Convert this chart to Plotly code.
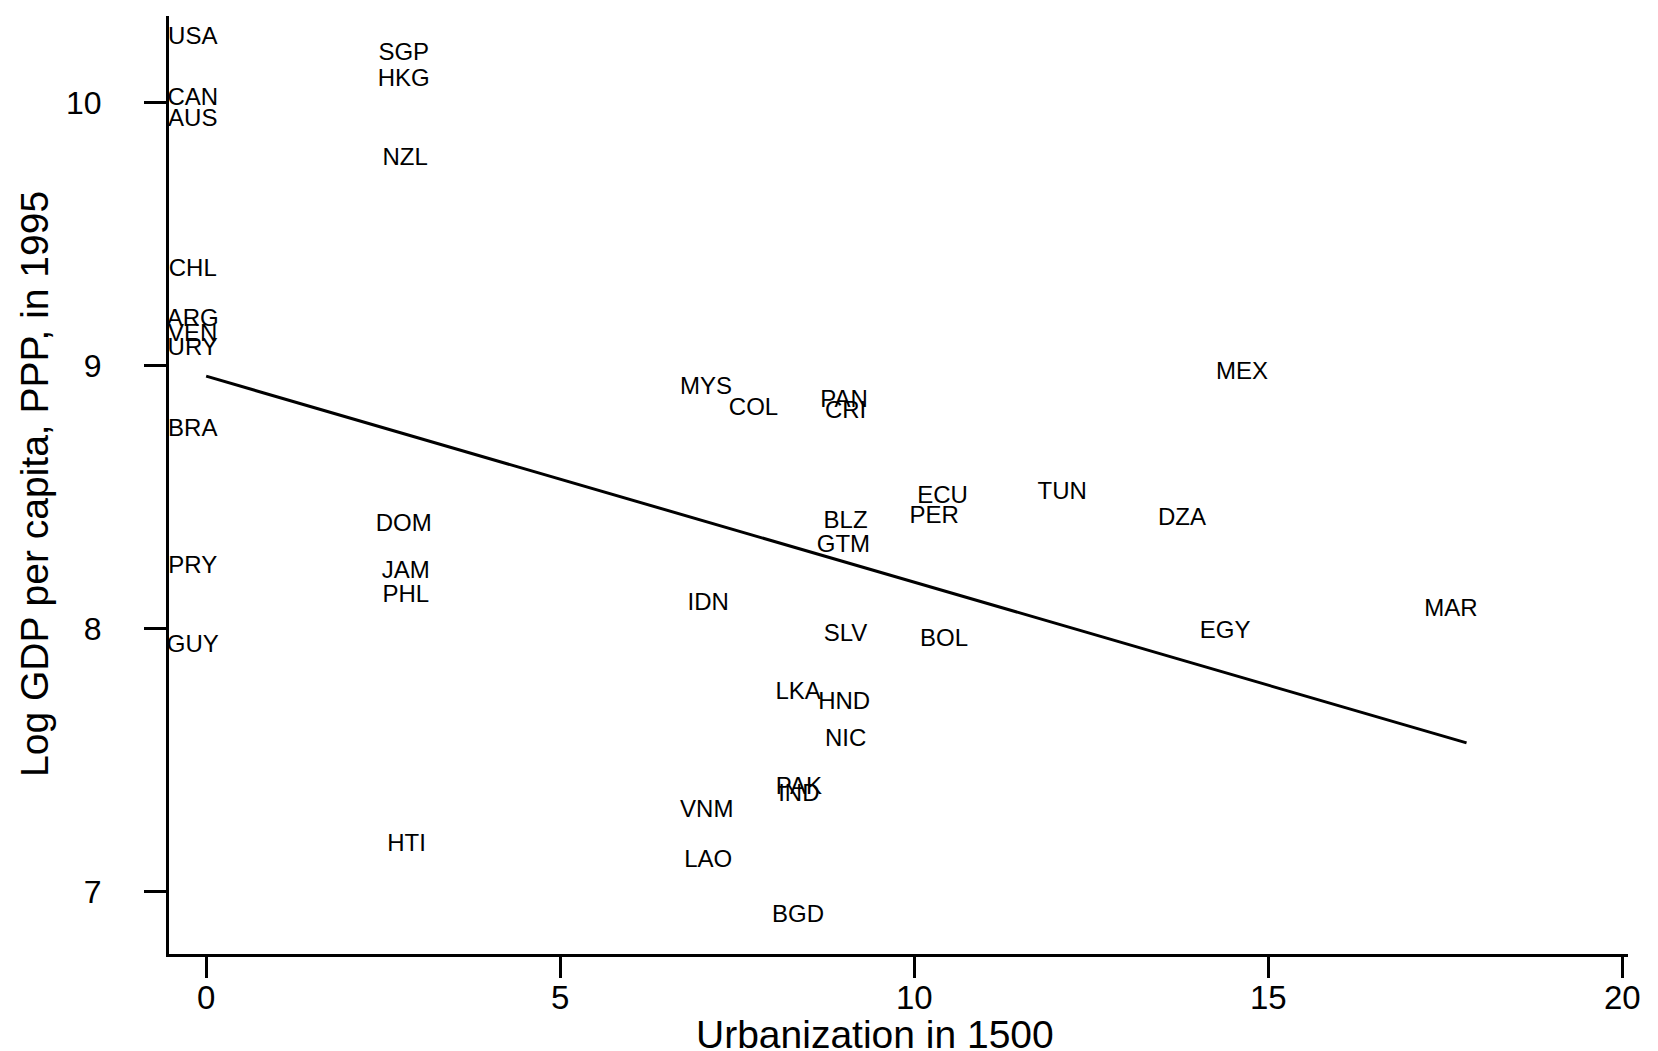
import plotly.graph_objects as go

# Country codes with urbanization in 1500 (%) and log GDP per capita (PPP) in 1995
countries = ["USA", "SGP", "HKG", "CAN", "AUS", "NZL", "CHL", "ARG", "VEN", "URY",
             "BRA", "PRY", "GUY", "DOM", "JAM", "PHL", "HTI", "MYS", "COL", "PAN",
             "CRI", "MEX", "ECU", "PER", "TUN", "DZA", "BLZ", "GTM", "IDN", "SLV",
             "BOL", "EGY", "MAR", "LKA", "HND", "NIC", "PAK", "IND", "VNM", "LAO",
             "BGD"]
urbanization_1500 = [-0.19, 2.79, 2.79, -0.19, -0.19, 2.81, -0.19, -0.19, -0.19, -0.19,
                     -0.19, -0.19, -0.19, 2.79, 2.82, 2.82, 2.83, 7.06, 7.73, 9.01,
                     9.03, 14.63, 10.40, 10.28, 12.09, 13.78, 9.03, 9.00, 7.09, 9.03,
                     10.42, 14.39, 17.58, 8.36, 9.01, 9.03, 8.37, 8.37, 7.07, 7.09,
                     8.36]
log_gdp_1995 = [10.245, 10.185, 10.085, 10.015, 9.935, 9.785, 9.365, 9.175, 9.115, 9.065,
                8.755, 8.235, 7.935, 8.395, 8.215, 8.125, 7.175, 8.915, 8.835, 8.865,
                8.825, 8.971, 8.50, 8.425, 8.515, 8.415, 8.405, 8.315, 8.095, 7.975,
                7.955, 7.985, 8.07, 7.755, 7.715, 7.575, 7.395, 7.365, 7.305, 7.115,
                6.905]

# Fitted regression line endpoints
fit_x = [0.0, 17.8]
fit_y = [8.96, 7.565]

x_ticks = [0, 5, 10, 15, 20]
y_ticks = [7, 8, 9, 10]

FONT = "Liberation Sans, Arial, Helvetica, sans-serif"

fig = go.Figure()

fig.add_trace(go.Scatter(
    x=fit_x, y=fit_y, mode="lines",
    line=dict(color="black", width=3),
    hoverinfo="skip", showlegend=False,
))

fig.add_trace(go.Scatter(
    x=urbanization_1500, y=log_gdp_1995, mode="text",
    text=countries, textposition="middle center",
    textfont=dict(family=FONT, size=24, color="black"),
    showlegend=False,
))

fig.update_layout(
    width=1658, height=1051,
    margin=dict(l=169, r=30, t=16, b=97, autoexpand=False),
    paper_bgcolor="white", plot_bgcolor="white",
    font=dict(family=FONT, color="black"),
    annotations=[
        dict(text="Urbanization in 1500", xref="paper", yref="paper",
             x=(875 - 169) / (1658 - 169 - 30), y=-(1034 - 954) / (1051 - 16 - 97),
             xanchor="center", yanchor="middle", showarrow=False,
             font=dict(family=FONT, size=39, color="black")),
        dict(text="Log GDP per capita, PPP, in 1995", xref="paper", yref="paper",
             x=-(169 - 34) / (1658 - 169 - 30), y=(954 - 484) / (1051 - 16 - 97),
             xanchor="center", yanchor="middle", textangle=-90, showarrow=False,
             font=dict(family=FONT, size=39, color="black")),
    ],
)

fig.update_xaxes(
    range=[-0.525, 20.08], automargin=False,
    tickvals=x_ticks, ticktext=[str(v) for v in x_ticks],
    showgrid=False, zeroline=False,
    showline=True, linecolor="black", linewidth=3,
    ticks="outside", ticklen=21, tickwidth=3, tickcolor="black",
    tickfont=dict(family=FONT, size=33, color="black"),
    ticklabelstandoff=-9,
)

fig.update_yaxes(
    range=[6.762, 10.33], automargin=False,
    tickvals=y_ticks, ticktext=[str(v) for v in y_ticks],
    showgrid=False, zeroline=False,
    showline=True, linecolor="black", linewidth=3,
    ticks="outside", ticklen=22, tickwidth=3, tickcolor="black",
    tickfont=dict(family=FONT, size=32, color="black"),
    ticklabelstandoff=36,
)

fig.write_html("out.html")
